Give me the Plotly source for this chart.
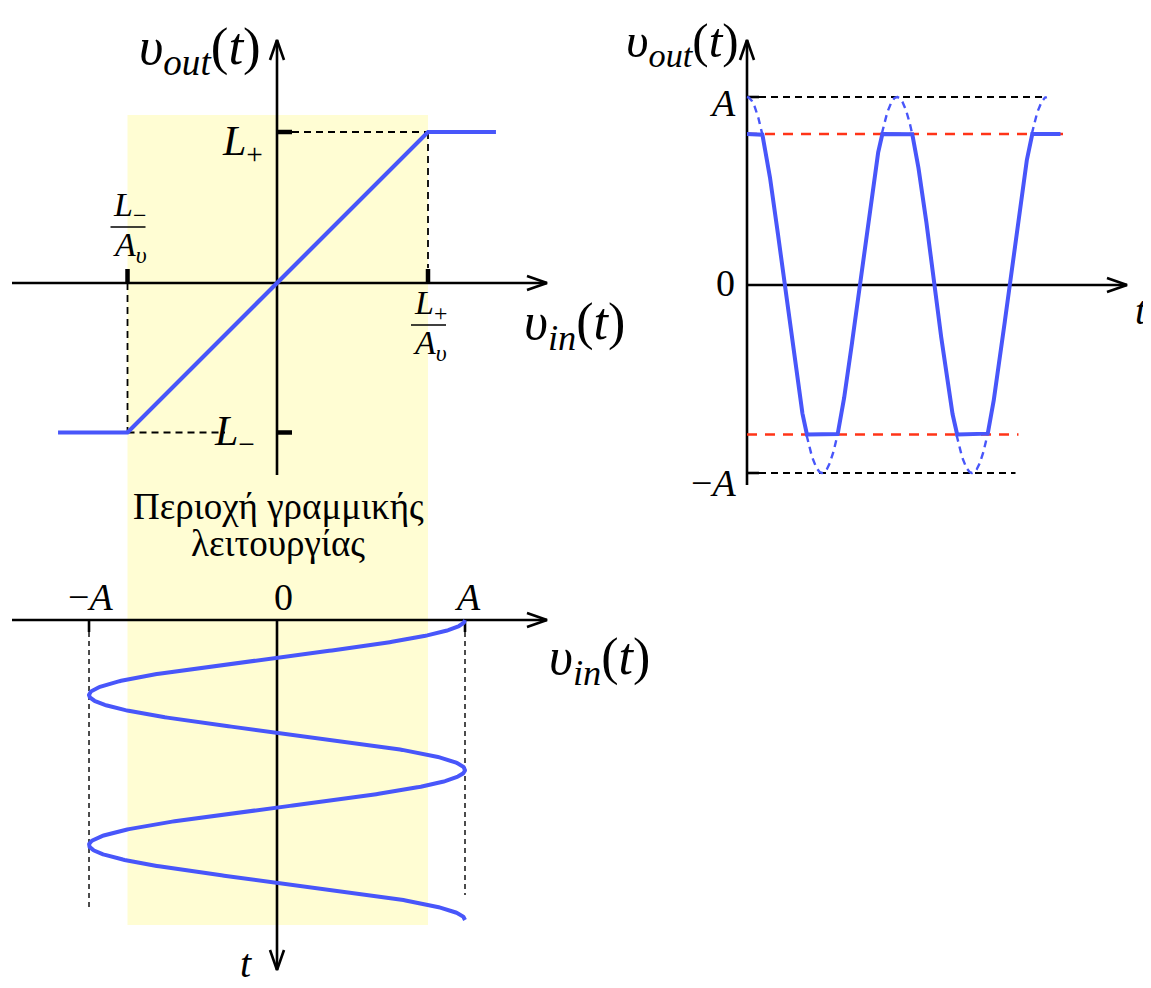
import numpy as np
import plotly.graph_objects as go

# ---------------- data (units: volts normalised so that L+ = 1) ----------------
A_amp = 1.245            # input sine amplitude A
L_plus = 1.0             # positive saturation level L+
L_minus = -0.99          # negative saturation level L-
A_v = 1.0                # small-signal gain (slope of the transfer curve)
vin_range = [-1.45, 1.45]        # drawn range of the transfer characteristic
period = 1.0                     # sine period (time units)
t_in_end = 2.0                   # end of the input sine
t_out_end = 2.09                 # end of the output waveform
t_ideal_end = 2.0                # end of the dashed (unclipped) parts
ref_A_end = [1.99, 1.79]         # ends of the black dashed A / -A guide lines
ref_L_end = [2.16, 1.81]         # ends of the red dashed L+ / L- guide lines

# ---------------- layout constants (pixels) ----------------
PAGE = 8                   # default page margin of the html body
W, H = 1151 - PAGE, 988 - PAGE
SV = 151.0   # px per volt unit
ST = 150.0   # px per time unit
OX_L, OY_TL = 277 - PAGE, 283 - PAGE   # transfer-characteristic origin
OY_BL = 620 - PAGE                     # input-sine time origin (t axis points down)
OX_R, OY_R = 747 - PAGE, 285 - PAGE    # output-waveform origin

BLUE = "rgb(72,86,250)"
RED = "rgb(255,52,24)"
YELLOW = "rgb(255,253,211)"
FONT = "Liberation Serif"

fig = go.Figure()

def line(x, y, xa, ya, color="black", width=2.6, dash=None):
    fig.add_trace(go.Scatter(x=x, y=y, xaxis=xa, yaxis=ya, mode="lines",
                             line=dict(color=color, width=width, dash=dash),
                             hoverinfo="skip", showlegend=False))

# helpers converting pixel offsets into axis units
def dxv(px): return px / SV
def dyv(px): return px / SV
def dt(px): return px / ST

def arrow_right(xt, yc, xa, ya, sx, sy):
    line([xt - 20 / sx, xt, xt - 20 / sx], [yc + 7 / sy, yc, yc - 7 / sy], xa, ya, width=2.6)

def arrow_up(xc, yt, xa, ya, sx, sy):
    line([xc - 7 / sx, xc, xc + 7 / sx], [yt - 20 / sy, yt, yt - 20 / sy], xa, ya, width=2.6)

# ================= top-left: transfer characteristic =================
xL = L_minus / A_v
xP = L_plus / A_v
vin = np.array([vin_range[0], xL, xP, vin_range[1]])
vout = np.clip(A_v * vin, L_minus, L_plus)

# axes
x_left_end, x_right_tip = -265 / SV, 270 / SV
line([x_left_end, x_right_tip], [0, 0], "x", "y")
arrow_right(x_right_tip, 0, "x", "y", SV, SV)
y_bot, y_top = -192 / SV, 243 / SV
line([0, 0], [y_bot, y_top], "x", "y")
arrow_up(0, y_top, "x", "y", SV, SV)

# guides
line([dxv(15), xP], [L_plus, L_plus], "x", "y", width=1.8, dash="7px,5px")
line([xP, xP], [L_plus, dyv(15)], "x", "y", width=1.8, dash="7px,5px")
line([xL, -dxv(52)], [L_minus, L_minus], "x", "y", width=1.8, dash="7px,5px")
line([xL, xL], [0, L_minus], "x", "y", width=1.8, dash="7px,5px")
# ticks
line([0, dxv(15)], [L_plus, L_plus], "x", "y", width=4.5)
line([0, dxv(15)], [L_minus, L_minus], "x", "y", width=4.5)
line([xP, xP], [0, dyv(14)], "x", "y", width=4.5)
line([xL, xL], [0, dyv(14)], "x", "y", width=4.5)

# transfer curve
line(list(vin), list(vout), "x", "y", color=BLUE, width=4.2)

# ================= bottom-left: input sine (t downwards) =================
t_in = np.linspace(0, t_in_end, 800)
v_in = A_amp * np.cos(2 * np.pi * t_in / period)

line([x_left_end, x_right_tip], [0, 0], "x", "y2")
arrow_right(x_right_tip, 0, "x", "y2", SV, -ST)
t_axis_tip = 350 / ST
line([0, 0], [0, t_axis_tip], "x", "y2")
line([-7 / SV, 0, 7 / SV], [t_axis_tip - dt(20), t_axis_tip, t_axis_tip - dt(20)], "x", "y2", width=2.6)

for xa_, tend in [(-A_amp, 290 / ST), (A_amp, 275 / ST)]:
    line([xa_, xa_], [0, dt(12)], "x", "y2", width=2.6)
    line([xa_, xa_], [dt(12), tend], "x", "y2", width=1.4, dash="5px,4px")

line(list(v_in), list(t_in), "x", "y2", color=BLUE, width=4.0)

# ================= right: output waveform =================
t_out = np.linspace(0, t_out_end, 2000)
ideal = A_amp * np.cos(2 * np.pi * t_out / period)
v_out = np.clip(ideal, L_minus, L_plus)
over = [(v if ((v > L_plus or v < L_minus) and t <= t_ideal_end) else None)
        for t, v in zip(t_out, ideal)]

# axes
line([0, 0], [-200 / SV, 245 / SV], "x3", "y3")
arrow_up(0, 245 / SV, "x3", "y3", ST, SV)
line([0, 380 / ST], [0, 0], "x3", "y3")
arrow_right(380 / ST, 0, "x3", "y3", ST, SV)

# reference lines
line([0, ref_A_end[0]], [A_amp, A_amp], "x3", "y3", width=1.8, dash="7px,5px")
line([0, ref_A_end[1]], [-A_amp, -A_amp], "x3", "y3", width=1.8, dash="7px,5px")
line([0, dt(12)], [A_amp, A_amp], "x3", "y3", width=2.6)
line([0, dt(12)], [-A_amp, -A_amp], "x3", "y3", width=2.6)
line([0, ref_L_end[0]], [L_plus, L_plus], "x3", "y3", color=RED, width=2.6, dash="10px,8px")
line([0, ref_L_end[1]], [L_minus, L_minus], "x3", "y3", color=RED, width=2.6, dash="10px,8px")

fig.add_trace(go.Scatter(x=t_out, y=over, xaxis="x3", yaxis="y3", mode="lines",
                         connectgaps=False, line=dict(color=BLUE, width=2.4, dash="7px,5px"),
                         hoverinfo="skip", showlegend=False))
line(list(t_out), list(v_out), "x3", "y3", color=BLUE, width=4.0)

# ================= linear-region shading =================
fig.add_shape(type="rect", xref="x", yref="y", x0=xL, x1=xP,
              y0=(283 - 925) / SV, y1=(283 - 115) / SV,
              fillcolor=YELLOW, line=dict(width=0), layer="below")

# ================= text =================
def txt(text, x, y, xa, ya, size, xanchor="center", yanchor="middle", xs=0, ys=0):
    fig.add_annotation(text=text, x=x, y=y, xref=xa, yref=ya, showarrow=False,
                       xanchor=xanchor, yanchor=yanchor, xshift=xs, yshift=ys,
                       font=dict(family=FONT, size=size, color="black"))

VOUT = "<i>υ</i><sub><i>out</i></sub>(<i>t</i>)"
VIN = "<i>υ</i><sub><i>in</i></sub>(<i>t</i>)"

# top-left
txt(VOUT, 0, 0, "x", "y", 53, "right", "middle", xs=-14, ys=233)
txt(VIN, 0, 0, "x", "y", 52, "left", "middle", xs=245, ys=-42)
txt("<i>L</i><sub>+</sub>", 0, L_plus, "x", "y", 42, "right", "middle", xs=-12, ys=-12)
txt("<i>L</i><sub>−</sub>", 0, L_minus, "x", "y", 42, "right", "middle", xs=-20, ys=-2)
# fractions
for xv, num, ybar in [(xL, "<i>L</i><sub>−</sub>", 56), (xP, "<i>L</i><sub>+</sub>", -42)]:
    txt(num, xv, 0, "x", "y", 34, "center", "bottom", xs=2, ys=ybar - 3)
    txt("<i>A</i><sub><i>υ</i></sub>", xv, 0, "x", "y", 34, "center", "top", xs=2, ys=ybar + 3)
    fig.add_shape(type="line", xref="x", yref="y", x0=xv - dxv(17), x1=xv + dxv(18),
                  y0=dyv(ybar), y1=dyv(ybar), line=dict(color="black", width=1.6))

# bottom-left
txt("Περιοχή γραμμικής", 0, 0, "x", "y2", 37, "center", "middle", xs=1, ys=114)
txt("λειτουργίας", 0, 0, "x", "y2", 37, "center", "middle", xs=1, ys=77)
txt("−<i>A</i>", -A_amp, 0, "x", "y2", 38, "right", "bottom", xs=26, ys=0)
txt("0", 0, 0, "x", "y2", 38, "center", "bottom", xs=6, ys=0)
txt("<i>A</i>", A_amp, 0, "x", "y2", 38, "center", "bottom", xs=2, ys=0)
txt(VIN, 0, 0, "x", "y2", 52, "left", "middle", xs=270, ys=-40)
txt("<i>t</i>", 0, 0, "x", "y2", 40, "center", "middle", xs=-31, ys=-343)

# right
txt(VOUT, 0, 0, "x3", "y3", 49, "right", "middle", xs=-6, ys=242)
txt("<i>A</i>", 0, A_amp, "x3", "y3", 38, "right", "middle", xs=-9, ys=-6)
txt("0", 0, 0, "x3", "y3", 38, "right", "middle", xs=-10, ys=2)
txt("−<i>A</i>", 0, -A_amp, "x3", "y3", 38, "right", "middle", xs=-9, ys=-10)
txt("<i>t</i>", 0, 0, "x3", "y3", 40, "left", "middle", xs=386, ys=-25)

# ================= axes (hidden, pixel-calibrated) =================
ax_common = dict(visible=False, showgrid=False, zeroline=False, fixedrange=True)
fig.update_layout(
    width=W, height=H, autosize=False,
    margin=dict(l=0, r=0, t=0, b=0),
    paper_bgcolor="white", plot_bgcolor="white",
    xaxis=dict(range=[-OX_L / SV, (W - OX_L) / SV], domain=[0, 1], **ax_common),
    yaxis=dict(range=[-(H - OY_TL) / SV, OY_TL / SV], domain=[0, 1], **ax_common),
    yaxis2=dict(range=[(H - OY_BL) / ST, -OY_BL / ST], domain=[0, 1],
                overlaying="y", anchor="x", **ax_common),
    xaxis3=dict(range=[-OX_R / ST, (W - OX_R) / ST], domain=[0, 1],
                overlaying="x", anchor="y3", **ax_common),
    yaxis3=dict(range=[-(H - OY_R) / SV, OY_R / SV], domain=[0, 1],
                overlaying="y", anchor="x3", **ax_common),
    showlegend=False,
)

fig.write_html("out.html", config={"displayModeBar": False, "staticPlot": True})
